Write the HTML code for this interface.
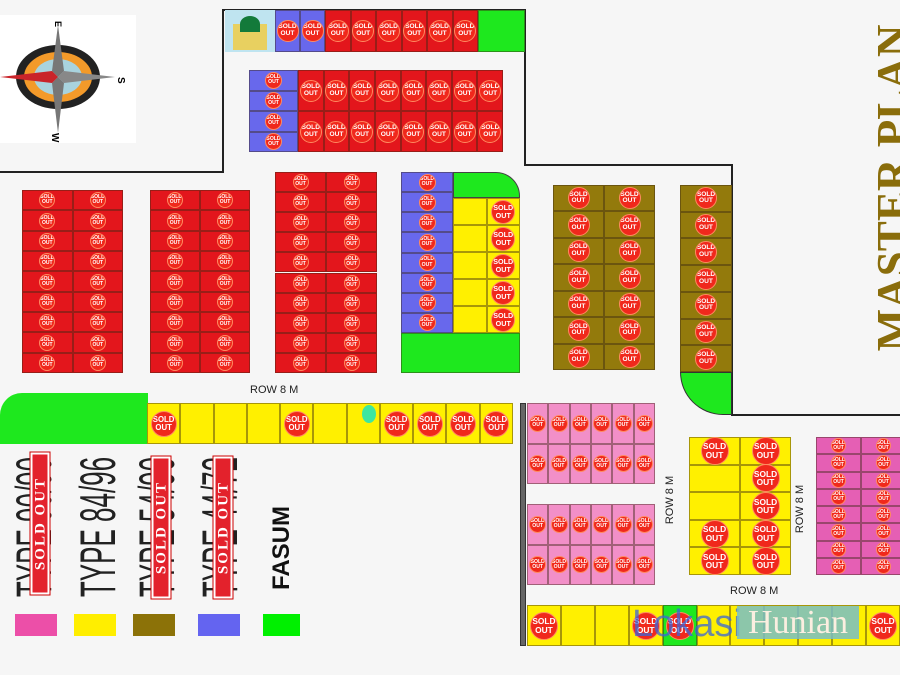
<!DOCTYPE html>
<html><head><meta charset="utf-8">
<style>
body{margin:0;width:900px;height:675px;background:#f6f6f6;position:relative;overflow:hidden;font-family:"Liberation Sans",sans-serif}
.a{position:absolute;box-sizing:border-box}
.c{position:absolute;box-sizing:border-box;border:1px solid rgba(60,40,20,.45)}
.b{position:absolute;border-radius:50%;background:#f0281c;border:1px solid #ff8a60;color:#fff;font-weight:bold;text-align:center;line-height:1;overflow:hidden;box-sizing:border-box;display:flex;align-items:center;justify-content:center;flex-direction:column}
.v{position:absolute;transform:rotate(-90deg);transform-origin:center;white-space:nowrap}
.t{position:absolute;width:300px;height:50px;line-height:50px;font-size:50px;color:#222;text-align:center;white-space:nowrap;transform:rotate(-90deg) scaleX(0.52)}
.s{position:absolute;width:142px;height:19px;background:#e3222c;border:2px solid #fff;outline:1px solid #c00;color:#fff;font:bold 15px 'Liberation Serif',serif;text-align:center;line-height:16px;letter-spacing:2px;transform:rotate(-90deg);box-sizing:border-box}
</style></head><body>
<div class="a" style="left:0;top:15px;width:136px;height:128px;background:#fff"></div>
<svg class="a" style="left:0;top:15px" width="136" height="128">
<ellipse cx="58" cy="62" rx="42" ry="32" fill="#222"/>
<ellipse cx="58" cy="62" rx="34" ry="25" fill="#f39a2a"/>
<ellipse cx="58" cy="62" rx="24" ry="18" fill="#a9d3de"/>
<polygon points="58,10 64,56 58,62 52,56" fill="#777"/>
<polygon points="58,118 64,68 58,62 52,68" fill="#777"/>
<polygon points="0,62 52,56 58,62 52,68" fill="#c9242a"/>
<polygon points="115,62 64,56 58,62 64,68" fill="#888"/>
<text x="58" y="9" font-size="9" font-weight="bold" transform="rotate(90 58 6)">E</text>
<text x="122" y="66" font-size="10" font-weight="bold" transform="rotate(90 122 62)">S</text>
<text x="54" y="128" font-size="10" font-weight="bold" transform="rotate(90 58 122)">W</text>
</svg>
<svg class="a" style="left:0;top:0" width="900" height="675">
<polyline points="0,172 223,172 223,10 525,10 525,165 732,165 732,415 900,415" fill="none" stroke="#222" stroke-width="2"/>
</svg>
<div id="m"></div>
<div class="a" style="left:520px;top:403px;width:6px;height:243px;background:#666;border:1px solid #333"></div>
<div class="a" style="left:250px;top:384px;font-size:11px;color:#222">ROW 8 M</div>
<div class="v" style="left:646px;top:494px;font-size:11px;color:#222">ROW 8 M</div>
<div class="v" style="left:776px;top:503px;font-size:11px;color:#222">ROW 8 M</div>
<div class="a" style="left:730px;top:585px;font-size:11px;color:#222">ROW 8 M</div>
<div class="t" style="left:-116px;top:502px">TYPE 90/90</div>
<div class="t" style="left:-52px;top:502px">TYPE 84/96</div>
<div class="t" style="left:7px;top:502px">TYPE 54/90</div>
<div class="t" style="left:70px;top:502px">TYPE 44/72</div>
<div class="s" style="left:-31px;top:514px">SOLD OUT</div>
<div class="s" style="left:90px;top:518px">SOLD OUT</div>
<div class="s" style="left:152px;top:518px">SOLD OUT</div>
<div class="v" style="left:237px;top:535px;width:90px;height:26px;line-height:26px;font-size:24px;font-weight:bold;color:#111;text-align:center">FASUM</div>
<div class="a" style="left:15px;top:614px;width:42px;height:22px;background:#ec4fa8"></div>
<div class="a" style="left:74px;top:614px;width:42px;height:22px;background:#ffee00"></div>
<div class="a" style="left:133px;top:614px;width:42px;height:22px;background:#8c7208"></div>
<div class="a" style="left:198px;top:614px;width:42px;height:22px;background:#6464f0"></div>
<div class="a" style="left:263px;top:614px;width:37px;height:22px;background:#00f000"></div>
<div class="a" style="left:713px;top:168px;width:360px;height:40px;font:bold 46px 'Liberation Serif',serif;color:#8a6d0b;text-align:center;line-height:40px;white-space:nowrap;transform:rotate(-90deg) scaleX(0.98)">MASTER PLAN</div>
<div class="a" style="left:632px;top:603px;font-size:38px;color:#3a66d8;opacity:.75">Lokasi</div>
<div class="a" style="left:737px;top:606px;width:122px;height:33px;background:rgba(120,190,200,.85);color:#fbeee0;font:34px 'Liberation Serif',serif;line-height:33px;text-align:center">Hunian</div>
<script>
var m=document.getElementById('m'),h='';
function cell(x,y,w,ht,col){h+='<div class="c" style="left:'+x+'px;top:'+y+'px;width:'+w+'px;height:'+ht+'px;background:'+col+'"></div>';}
function badge(cx,cy,d){var f=Math.max(5,d*0.3);h+='<div class="b" style="left:'+(cx-d/2)+'px;top:'+(cy-d/2)+'px;width:'+d+'px;height:'+d+'px;font-size:'+f+'px"><span>SOLD</span><span>OUT</span></div>';}
function grid(x,y,w,ht,cols,rows,col,bf,d){var cw=w/cols,rh=ht/rows;for(var r=0;r<rows;r++)for(var c=0;c<cols;c++){var cc=typeof col=='function'?col(r,c):col;cell(x+c*cw,y+r*rh,cw,rh,cc);if(!bf||bf(r,c))badge(x+c*cw+cw/2,y+r*rh+rh/2,d||Math.min(cw,rh)*0.8);}}
var R='#e3161c',B='#6868ec',Y='#fff000',O='#937a0c',P='#f28fc8',PA='#e55fb4',G='#1ee81e';
h+='<div class="a" style="left:225px;top:10px;width:50px;height:42px;background:#bfe4f0"><div class="a" style="left:8px;top:14px;width:34px;height:26px;background:#e8d060"></div><div class="a" style="left:15px;top:6px;width:20px;height:16px;background:#137a3a;border-radius:50% 50% 0 0"></div></div>';
grid(275,10,50,42,2,1,B,null,22);
grid(325,10,153,42,6,1,R,null,22);
cell(478,10,47,42,G);
grid(249,70,49,82,1,4,B,null,17);
grid(298,70,205,82,8,2,R,null,22);
grid(22,190,101,183,2,9,R,null,16);
grid(150,190,100,183,2,9,R,null,16);
grid(275,172,102,201,2,10,R,null,16);
grid(401,172,52,161,1,8,B,null,17);
h+='<div class="a" style="left:453px;top:172px;width:67px;height:26px;background:'+G+';border-top-right-radius:24px;border:1px solid #444"></div>';
grid(453,198,67,135,2,5,Y,function(r,c){return c==1},24);
cell(401,333,119,40,G);
grid(553,185,102,185,2,7,O,null,22);
grid(680,185,52,187,1,7,O,null,22);
h+='<div class="a" style="left:680px;top:372px;width:52px;height:43px;background:'+G+';border-bottom-left-radius:48px;border:1px solid #333"></div>';
h+='<div class="a" style="left:0;top:393px;width:148px;height:51px;background:'+G+';border-top-left-radius:22px"></div>';
grid(147,403,366,41,11,1,Y,function(r,c){return [0,4,7,8,9,10].indexOf(c)>=0},26);
h+='<div class="a" style="left:362px;top:405px;width:14px;height:18px;border-radius:50%;background:#3de6a0"></div>';
grid(527,403,128,81,6,2,P,null,17);
grid(527,504,128,81,6,2,P,null,17);
grid(689,437,102,138,2,5,Y,function(r,c){return !(r==1&&c==0)&&!(r==2&&c==0)},28);
grid(816,437,90,138,2,8,PA,null,15);
grid(527,605,373,41,11,1,function(r,c){return c==4?G:Y},function(r,c){return [0,3,4,10].indexOf(c)>=0},28);
m.innerHTML=h;
</script>
</body></html>
